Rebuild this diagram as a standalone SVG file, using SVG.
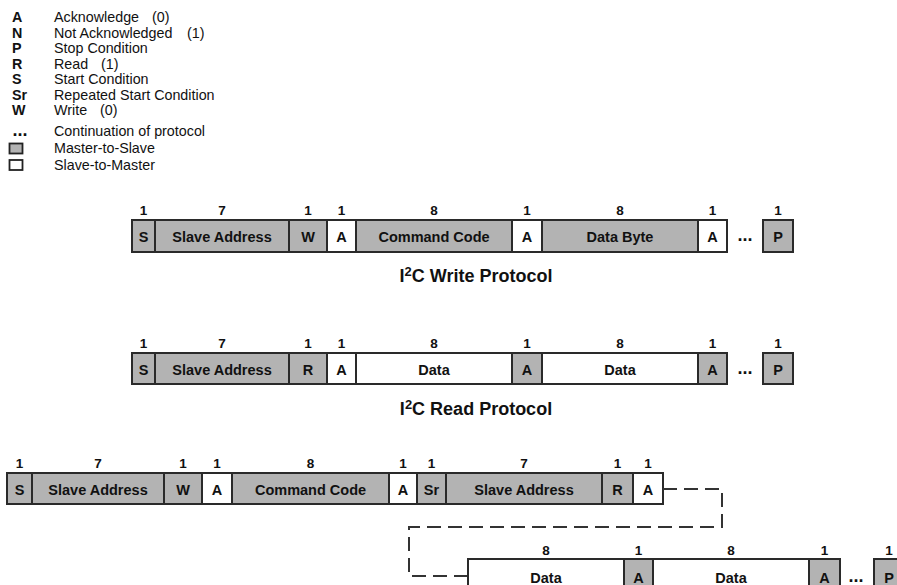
<svg xmlns="http://www.w3.org/2000/svg" width="897" height="585" viewBox="0 0 897 585">
<style>
text{font-family:"Liberation Sans",Arial,sans-serif;fill:#111}
.lg{font-size:14.3px}
.lb{font-size:14.3px;font-weight:bold}
.n{font-size:13.5px;font-weight:bold;text-anchor:middle}
.c{font-size:14.5px;font-weight:bold;text-anchor:middle}
.t{font-size:18px;font-weight:bold;text-anchor:middle}
.g{fill:#b3b3b3;stroke:#2a2a2a;stroke-width:2}
.w{fill:#fff;stroke:#2a2a2a;stroke-width:2}
.dots{font-size:18px;font-weight:bold;text-anchor:middle}
.conn{fill:none;stroke:#333;stroke-width:2;stroke-dasharray:14 7}
</style>
<rect width="897" height="585" fill="#fff"/>
<g id="legend">
<text class="lb" x="12" y="21.5">A</text><text class="lg" x="54" y="21.5">Acknowledge<tspan x="152">(0)</tspan></text>
<text class="lb" x="12" y="37.5">N</text><text class="lg" x="54" y="37.5">Not Acknowledged<tspan x="187">(1)</tspan></text>
<text class="lb" x="12" y="53">P</text><text class="lg" x="54" y="53">Stop Condition</text>
<text class="lb" x="12" y="68.5">R</text><text class="lg" x="54" y="68.5">Read<tspan x="101">(1)</tspan></text>
<text class="lb" x="12" y="84">S</text><text class="lg" x="54" y="84">Start Condition</text>
<text class="lb" x="12" y="99.5">Sr</text><text class="lg" x="54" y="99.5">Repeated Start Condition</text>
<text class="lb" x="12" y="115">W</text><text class="lg" x="54" y="115">Write<tspan x="100">(0)</tspan></text>
<text class="dots" x="20" y="136">...</text><text class="lg" x="54" y="136">Continuation of protocol</text>
<rect x="9.5" y="143.5" width="13" height="10" fill="#b3b3b3" stroke="#222" stroke-width="1.8"/><text class="lg" x="54" y="153">Master-to-Slave</text>
<rect x="9.5" y="160" width="13" height="10" fill="#fff" stroke="#222" stroke-width="1.8"/><text class="lg" x="54" y="169.5">Slave-to-Master</text>
</g>

<g id="write-protocol">
<text class="n" x="143.5" y="214.5">1</text><text class="n" x="222" y="214.5">7</text><text class="n" x="308" y="214.5">1</text><text class="n" x="341.5" y="214.5">1</text><text class="n" x="434" y="214.5">8</text><text class="n" x="527" y="214.5">1</text><text class="n" x="620" y="214.5">8</text><text class="n" x="712.5" y="214.5">1</text><text class="n" x="778" y="214.5">1</text>
<rect class="g" x="132" y="220" width="23" height="32"/><text class="c" x="143.5" y="242">S</text>
<rect class="g" x="155" y="220" width="134" height="32"/><text class="c" x="222" y="242">Slave Address</text>
<rect class="g" x="289" y="220" width="38" height="32"/><text class="c" x="308" y="242">W</text>
<rect class="w" x="327" y="220" width="29" height="32"/><text class="c" x="341.5" y="242">A</text>
<rect class="g" x="356" y="220" width="156" height="32"/><text class="c" x="434" y="242">Command Code</text>
<rect class="w" x="512" y="220" width="30" height="32"/><text class="c" x="527" y="242">A</text>
<rect class="g" x="542" y="220" width="156" height="32"/><text class="c" x="620" y="242">Data Byte</text>
<rect class="w" x="698" y="220" width="29" height="32"/><text class="c" x="712.5" y="242">A</text>
<text class="dots" x="745" y="241">...</text>
<rect class="g" x="763" y="220" width="30" height="32"/><text class="c" x="778" y="242">P</text>
<text class="t" x="476" y="282">I<tspan font-size="13" dy="-6">2</tspan><tspan dy="6">C Write Protocol</tspan></text>
</g>

<g id="read-protocol">
<text class="n" x="143.5" y="347.5">1</text><text class="n" x="222" y="347.5">7</text><text class="n" x="308" y="347.5">1</text><text class="n" x="341.5" y="347.5">1</text><text class="n" x="434" y="347.5">8</text><text class="n" x="527" y="347.5">1</text><text class="n" x="620" y="347.5">8</text><text class="n" x="712.5" y="347.5">1</text><text class="n" x="778" y="347.5">1</text>
<rect class="g" x="132" y="353" width="23" height="31"/><text class="c" x="143.5" y="374.5">S</text>
<rect class="g" x="155" y="353" width="134" height="31"/><text class="c" x="222" y="374.5">Slave Address</text>
<rect class="g" x="289" y="353" width="38" height="31"/><text class="c" x="308" y="374.5">R</text>
<rect class="w" x="327" y="353" width="29" height="31"/><text class="c" x="341.5" y="374.5">A</text>
<rect class="w" x="356" y="353" width="156" height="31"/><text class="c" x="434" y="374.5">Data</text>
<rect class="g" x="512" y="353" width="30" height="31"/><text class="c" x="527" y="374.5">A</text>
<rect class="w" x="542" y="353" width="156" height="31"/><text class="c" x="620" y="374.5">Data</text>
<rect class="g" x="698" y="353" width="29" height="31"/><text class="c" x="712.5" y="374.5">A</text>
<text class="dots" x="745" y="373.5">...</text>
<rect class="g" x="763" y="353" width="30" height="31"/><text class="c" x="778" y="374.5">P</text>
<text class="t" x="476" y="415">I<tspan font-size="13" dy="-6">2</tspan><tspan dy="6">C Read Protocol</tspan></text>
</g>

<g id="combined-row1">
<text class="n" x="19.5" y="467.5">1</text><text class="n" x="98" y="467.5">7</text><text class="n" x="183" y="467.5">1</text><text class="n" x="217" y="467.5">1</text><text class="n" x="310.5" y="467.5">8</text><text class="n" x="403" y="467.5">1</text><text class="n" x="431.5" y="467.5">1</text><text class="n" x="524" y="467.5">7</text><text class="n" x="617.5" y="467.5">1</text><text class="n" x="648" y="467.5">1</text>
<rect class="g" x="7" y="473" width="25" height="31"/><text class="c" x="19.5" y="494.5">S</text>
<rect class="g" x="32" y="473" width="132" height="31"/><text class="c" x="98" y="494.5">Slave Address</text>
<rect class="g" x="164" y="473" width="38" height="31"/><text class="c" x="183" y="494.5">W</text>
<rect class="w" x="202" y="473" width="30" height="31"/><text class="c" x="217" y="494.5">A</text>
<rect class="g" x="232" y="473" width="157" height="31"/><text class="c" x="310.5" y="494.5">Command Code</text>
<rect class="w" x="389" y="473" width="28" height="31"/><text class="c" x="403" y="494.5">A</text>
<rect class="g" x="417" y="473" width="29" height="31"/><text class="c" x="431.5" y="494.5">Sr</text>
<rect class="g" x="446" y="473" width="156" height="31"/><text class="c" x="524" y="494.5">Slave Address</text>
<rect class="g" x="602" y="473" width="31" height="31"/><text class="c" x="617.5" y="494.5">R</text>
<rect class="w" x="633" y="473" width="30" height="31"/><text class="c" x="648" y="494.5">A</text>
</g>

<g id="connectors">
<path class="conn" d="M663,489 H722 V527 H409 V576 H468"/>
</g>

<g id="combined-row2">
<text class="n" x="546" y="554.5">8</text><text class="n" x="638.5" y="554.5">1</text><text class="n" x="731" y="554.5">8</text><text class="n" x="824.5" y="554.5">1</text><text class="n" x="889" y="554.5">1</text>
<rect class="w" x="468" y="559" width="156" height="31"/><text class="c" x="546" y="582.5">Data</text>
<rect class="g" x="624" y="559" width="29" height="31"/><text class="c" x="638.5" y="582.5">A</text>
<rect class="w" x="653" y="559" width="156" height="31"/><text class="c" x="731" y="582.5">Data</text>
<rect class="g" x="809" y="559" width="31" height="31"/><text class="c" x="824.5" y="582.5">A</text>
<text class="dots" x="856" y="581.5">...</text>
<rect class="g" x="874" y="559" width="30" height="31"/><text class="c" x="889" y="582.5">P</text>
</g>
</svg>
